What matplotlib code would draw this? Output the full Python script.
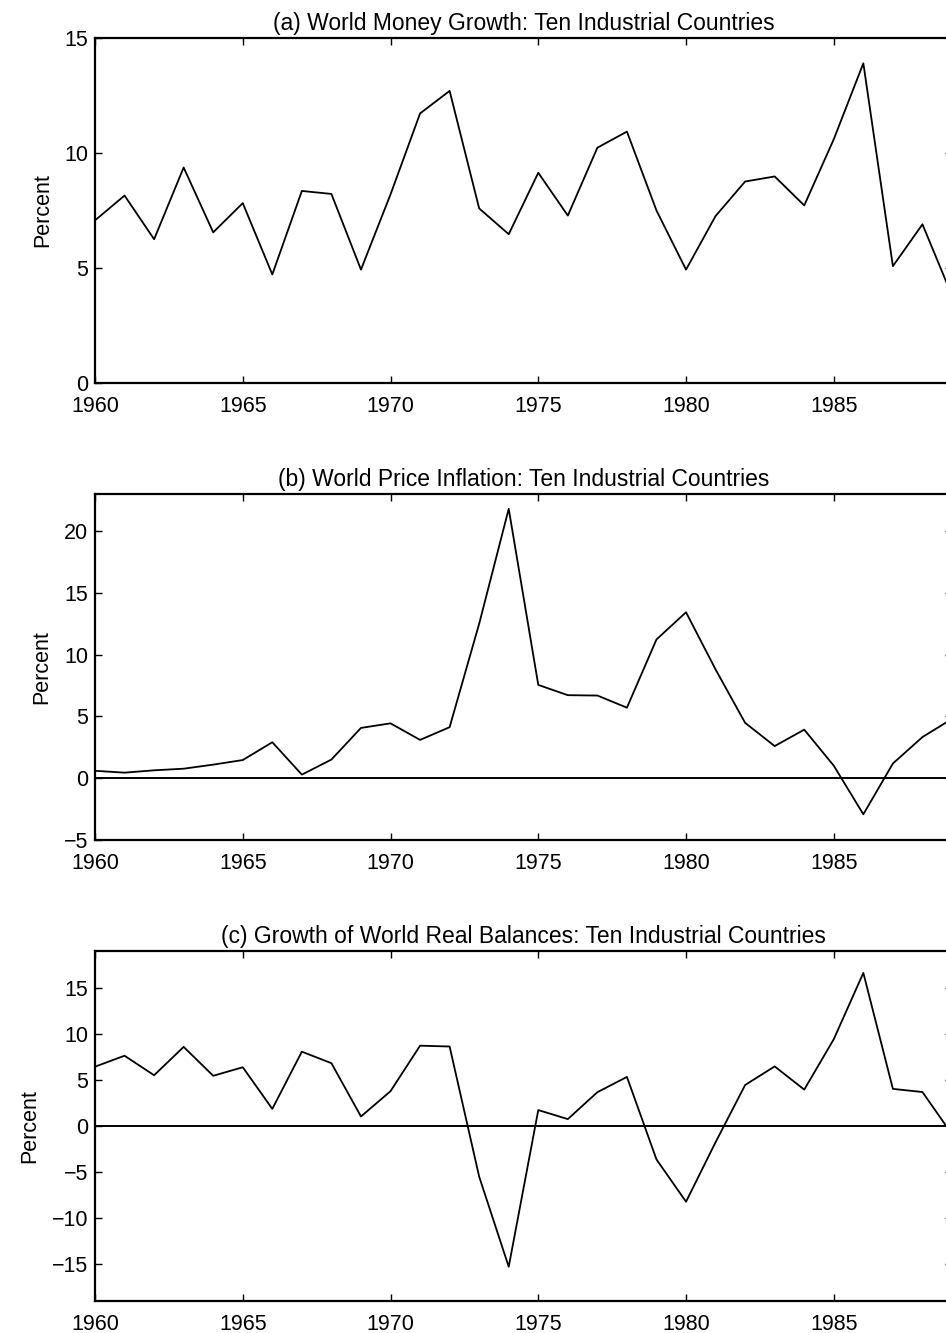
import matplotlib
matplotlib.use('Agg')
import matplotlib.pyplot as plt
import numpy as np

years = np.arange(1960, 1990)

# (a) money growth, percent
money = [7.07, 8.15, 6.25, 9.37, 6.55, 7.82, 4.72, 8.35, 8.22, 4.93,
         8.2, 11.72, 12.70, 7.59, 6.47, 9.14, 7.28, 10.23, 10.93, 7.5,
         4.93, 7.26, 8.76, 8.98, 7.72, 10.6, 13.9, 5.08, 6.9, 3.8]

# (b) price inflation, percent
prices = [0.60, 0.45, 0.64, 0.77, 1.10, 1.47, 2.91, 0.29, 1.51, 4.07,
          4.44, 3.10, 4.13, 12.5, 21.8, 7.55, 6.72, 6.69, 5.71, 11.23,
          13.43, 8.8, 4.48, 2.60, 3.93, 1.01, -2.92, 1.19, 3.33, 4.8]

# (c) growth of real balances, percent
real_bal = [6.44, 7.63, 5.51, 8.59, 5.45, 6.38, 1.86, 8.07, 6.82, 1.03,
            3.78, 8.72, 8.63, -5.5, -15.28, 1.73, 0.75, 3.67, 5.33, -3.63,
            -8.22, -1.76, 4.45, 6.47, 3.95, 9.43, 16.62, 4.03, 3.69, -0.9]

titles = ['(a) World Money Growth: Ten Industrial Countries',
          '(b) World Price Inflation: Ten Industrial Countries',
          '(c) Growth of World Real Balances: Ten Industrial Countries']
ylims = [(0, 15), (-5, 23), (-19, 19)]
yticks = [[0, 5, 10, 15], [-5, 0, 5, 10, 15, 20], [-15, -10, -5, 0, 5, 10, 15]]
xticks = [1960, 1965, 1970, 1975, 1980, 1985]

plt.rcParams['font.family'] = ['Liberation Sans', 'DejaVu Sans']

W, H = 946.0, 1333.0
fig = plt.figure(figsize=(W / 100, H / 100), dpi=100)

# pixel boxes (left, top, right, bottom)
boxes = [(95, 38, 952, 383), (95, 494, 952, 840), (95, 951, 952, 1301)]

series = [money, prices, real_bal]
for i in range(3):
    l, t, r, b = boxes[i]
    ax = fig.add_axes([l / W, 1 - b / H, (r - l) / W, (b - t) / H])
    ax.plot(years, series[i], c='k', lw=1.3)
    if i > 0:
        ax.axhline(0, c='k', lw=1.4)
    ax.set_xlim(1960, 1989)
    ax.set_ylim(*ylims[i])
    ax.set_xticks(xticks)
    ax.set_yticks(yticks[i])
    ax.set_yticklabels([str(v).replace('-', '\u2212') for v in yticks[i]])
    ax.tick_params(direction='in', top=True, right=True, length=5, width=1,
                   labelsize=15.5)
    ax.tick_params(axis='x', pad=9.5)
    ax.tick_params(axis='y', pad=5)
    for s in ax.spines.values():
        s.set_linewidth(1.6)
    ax.set_title(titles[i], fontsize=16.5, pad=6)
    ax.set_ylabel('Percent', fontsize=15.5, labelpad=8)

fig.savefig('out.png', dpi=100)
